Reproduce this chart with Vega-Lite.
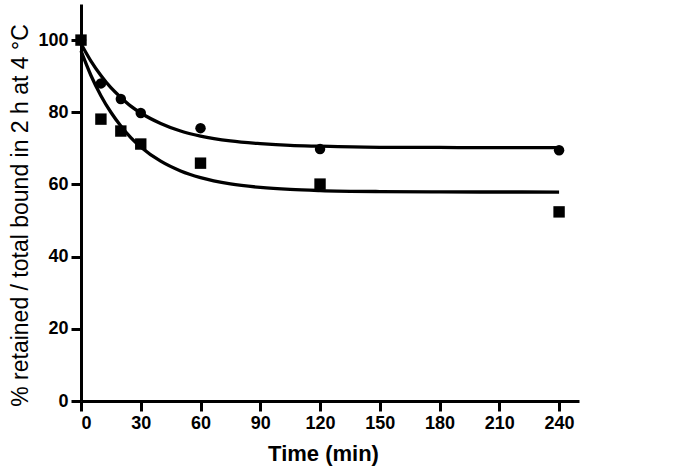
{
  "$schema": "https://vega.github.io/schema/vega-lite/v6.json",
  "autosize": "none",
  "padding": {"left": 81, "top": 4, "right": 106, "bottom": 72},
  "width": 498,
  "height": 397,
  "background": "white",
  "config": {
    "view": {"stroke": null},
    "axis": {
      "domainColor": "black", "domainWidth": 3,
      "tickColor": "black", "tickWidth": 3, "tickSize": 10,
      "labelFont": "Liberation Sans", "labelFontWeight": "bold", "labelFontSize": 18, "labelColor": "black",
      "titleFont": "Liberation Sans", "titleColor": "black",
      "grid": false, "labelPadding": 3
    }
  },
  "datasets": {
    "points": [
      {"time": 0, "value": 100, "series": "A"},
      {"time": 10, "value": 88, "series": "A"},
      {"time": 20, "value": 83.7, "series": "A"},
      {"time": 30, "value": 79.8, "series": "A"},
      {"time": 60, "value": 75.6, "series": "A"},
      {"time": 120, "value": 69.8, "series": "A"},
      {"time": 240, "value": 69.5, "series": "A"},
      {"time": 0, "value": 100, "series": "B"},
      {"time": 10, "value": 78.1, "series": "B"},
      {"time": 20, "value": 74.8, "series": "B"},
      {"time": 30, "value": 71.2, "series": "B"},
      {"time": 60, "value": 65.9, "series": "B"},
      {"time": 120, "value": 60.1, "series": "B"},
      {"time": 240, "value": 52.4, "series": "B"}
    ],
    "fits": [
      {"time": 0, "value": 99.0, "series": "A"},
      {"time": 5, "value": 94.2, "series": "A"},
      {"time": 10, "value": 90.2, "series": "A"},
      {"time": 15, "value": 86.8, "series": "A"},
      {"time": 20, "value": 84.1, "series": "A"},
      {"time": 25, "value": 81.7, "series": "A"},
      {"time": 30, "value": 79.8, "series": "A"},
      {"time": 40, "value": 76.9, "series": "A"},
      {"time": 50, "value": 74.8, "series": "A"},
      {"time": 60, "value": 73.4, "series": "A"},
      {"time": 75, "value": 72.05, "series": "A"},
      {"time": 90, "value": 71.3, "series": "A"},
      {"time": 105, "value": 70.8, "series": "A"},
      {"time": 120, "value": 70.6, "series": "A"},
      {"time": 150, "value": 70.3, "series": "A"},
      {"time": 180, "value": 70.25, "series": "A"},
      {"time": 210, "value": 70.2, "series": "A"},
      {"time": 240, "value": 70.2, "series": "A"},
      {"time": 0, "value": 97.0, "series": "B"},
      {"time": 5, "value": 90.2, "series": "B"},
      {"time": 10, "value": 84.6, "series": "B"},
      {"time": 15, "value": 80.0, "series": "B"},
      {"time": 20, "value": 76.2, "series": "B"},
      {"time": 25, "value": 73.0, "series": "B"},
      {"time": 30, "value": 70.4, "series": "B"},
      {"time": 40, "value": 66.45, "series": "B"},
      {"time": 50, "value": 63.75, "series": "B"},
      {"time": 60, "value": 61.9, "series": "B"},
      {"time": 75, "value": 60.16, "series": "B"},
      {"time": 90, "value": 59.18, "series": "B"},
      {"time": 105, "value": 58.62, "series": "B"},
      {"time": 120, "value": 58.31, "series": "B"},
      {"time": 150, "value": 58.03, "series": "B"},
      {"time": 180, "value": 57.94, "series": "B"},
      {"time": 210, "value": 57.91, "series": "B"},
      {"time": 240, "value": 57.9, "series": "B"}
    ]
  },
  "encoding": {
    "x": {
      "field": "time", "type": "quantitative",
      "scale": {"domain": [0, 250], "nice": false, "zero": true},
      "axis": {"values": [0, 30, 60, 90, 120, 150, 180, 210, 240], "title": "Time (min)", "titleFontSize": 22, "titleFontWeight": "bold", "titlePadding": 11, "titleX": 242}
    },
    "y": {
      "field": "value", "type": "quantitative",
      "scale": {"domain": [0, 110], "nice": false},
      "axis": {"values": [0, 20, 40, 60, 80, 100], "title": "% retained / total bound in 2 h at 4 °C", "titleFontSize": 23, "titleFontWeight": "normal", "titlePadding": 5, "titleY": 211}
    }
  },
  "layer": [
    {
      "data": {"name": "fits"},
      "mark": {"type": "line", "color": "black", "strokeWidth": 3.3, "interpolate": "monotone"},
      "encoding": {"detail": {"field": "series"}}
    },
    {
      "data": {"name": "points"},
      "transform": [{"filter": "datum.series === 'A'"}],
      "mark": {"type": "point", "shape": "circle", "filled": true, "color": "black", "opacity": 1, "size": 110}
    },
    {
      "data": {"name": "points"},
      "transform": [{"filter": "datum.series === 'B'"}],
      "mark": {"type": "point", "shape": "square", "filled": true, "color": "black", "opacity": 1, "size": 130}
    }
  ]
}
